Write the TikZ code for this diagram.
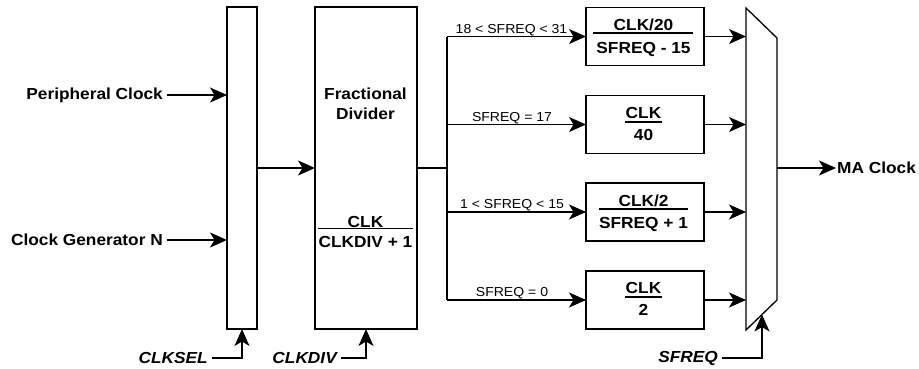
\documentclass[tikz,border=0pt]{standalone}
\usepackage{fontspec}
\setmainfont{Liberation Sans}[FakeStretch=1.08]
\usetikzlibrary{arrows.meta,calc}
\tikzset{
  box/.style={draw, line width=1.3pt, inner sep=0pt, outer sep=0pt},
  wire/.style={line width=1.2pt},
  arr/.style={wire, -{Stealth[length=17pt,width=15pt,inset=4.5pt]}},
  bl/.style={font=\fontsize{16}{19}\selectfont\bfseries, inner ysep=0pt, inner xsep=4pt},
  bli/.style={font=\fontsize{16}{19}\selectfont\bfseries\itshape, inner ysep=0pt, inner xsep=4pt},
  lbl/.style={font=\fontsize{13}{15}\selectfont, inner sep=0pt, anchor=base},
  num/.style={font=\fontsize{16}{19}\selectfont\bfseries, inner sep=0pt, anchor=base},
  fbar/.style={line width=1.8pt}
}
\begin{document}
\begin{tikzpicture}[x=1pt,y=-1pt]

\useasboundingbox (0,0) rectangle (919,368);

% blocks
\node[box, minimum width=30, minimum height=322] (sel) at (242,168) {};
\node[box, minimum width=102, minimum height=322] (div) at (366,168) {};
\node[box, minimum width=118, minimum height=58] (b1) at (645,36.5) {};
\node[box, minimum width=118, minimum height=58] (b2) at (645,124.5) {};
\node[box, minimum width=118, minimum height=58] (b3) at (645,212) {};
\node[box, minimum width=118, minimum height=58] (b4) at (645,300) {};

% mux
\coordinate (m1) at (746,8);
\coordinate (m2) at (777,38);
\coordinate (m3) at (777,300);
\coordinate (m4) at (746,330);
\draw[box] (m1) -- (m2) -- (m3) -- (m4) -- cycle;
\coordinate (mo) at (777,168);
\coordinate (msel) at (762,314.5);

% divider texts
\node[num] (fd1) at (365.5,99.7) {Fractional};
\node[num] (fd2) at (365.5,119.7) {Divider};
\node[num] (dn) at (365.5,227) {CLK};
\node[num] (dd) at (365.5,247.5) {CLKDIV + 1};
\draw[fbar] (318,228.5) -- (413,228.5);

% fraction boxes
\node[num] (n1) at (643.5,30) {CLK/20};
\node[num] (d1) at (643.5,53) {SFREQ - 15};
\draw[fbar] (593,33.3) -- (693,33.3);
\node[num] (n2) at (643.5,118.3) {CLK};
\node[num] (d2) at (643.5,140) {40};
\draw[fbar] (625,122.3) -- (662,122.3);
\node[num] (n3) at (643.5,206.7) {CLK/2};
\node[num] (d3) at (643.5,228) {SFREQ + 1};
\draw[fbar] (599,209) -- (688,209);
\node[num] (n4) at (643.5,293.3) {CLK};
\node[num] (d4) at (643.5,315) {2};
\draw[fbar] (625,297.3) -- (662,297.3);

% inputs
\node[bl, anchor=east] (pc) at (167,95) {Peripheral Clock};
\node[bl, anchor=east] (cg) at (167,240) {Clock Generator N};
\draw[arr] (pc.east) -- (pc.east -| sel.west);
\draw[arr] (cg.east) -- (cg.east -| sel.west);
\draw[arr] (sel.east) -- (div.west);

\node[bli, anchor=east] (clksel) at (212,358) {CLKSEL};
\node[bli, anchor=east] (clkdiv) at (341,358) {CLKDIV};
\node[bli, anchor=east] (sfreq) at (722,358) {SFREQ};
\draw[arr] (clksel.east) -| (sel.south);
\draw[arr] (clkdiv.east) -| (div.south);
\draw[arr] (sfreq.east) -| (msel);

% branch
\coordinate (br) at (447,168);
\draw[wire] (div.east) -- (br);
\draw[wire] (br |- b1.west) -- (br |- b4.west);
\draw[arr] (br |- b1.west) -- (b1.west);
\draw[arr] (br |- b2.west) -- (b2.west);
\draw[arr] (br |- b3.west) -- (b3.west);
\draw[arr] (br |- b4.west) -- (b4.west);
\node[lbl] (l1) at (511.5,33) {18 < SFREQ < 31};
\node[lbl] (l2) at (512,121) {SFREQ = 17};
\node[lbl] (l3) at (512,208.5) {1 < SFREQ < 15};
\node[lbl] (l4) at (512,296.5) {SFREQ = 0};

% to mux
\draw[arr] (b1.east) -- (b1.east -| m1);
\draw[arr] (b2.east) -- (b2.east -| m1);
\draw[arr] (b3.east) -- (b3.east -| m1);
\draw[arr] (b4.east) -- (b4.east -| m1);

% output
\node[bl, anchor=west, inner xsep=1pt] (ma) at (836,168) {MA Clock};
\draw[arr] (mo) -- (ma.west);
\end{tikzpicture}
\end{document}
